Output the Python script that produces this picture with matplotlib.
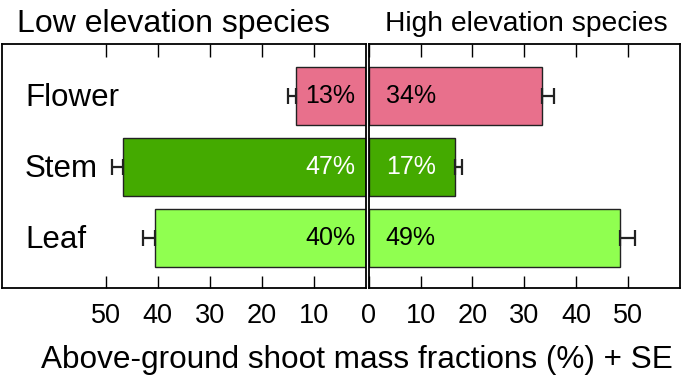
import matplotlib
matplotlib.use("Agg")
import matplotlib.pyplot as plt

plt.rcParams['font.family'] = ['Liberation Sans', 'DejaVu Sans']

organs = ['Leaf', 'Stem', 'Flower']
low_vals = [40.5, 46.8, 13.4]
low_se = [2.3, 2.0, 1.6]
low_labels = ['40%', '47%', '13%']
high_vals = [48.4, 16.7, 33.4]
high_se = [2.9, 1.3, 2.3]
high_labels = ['49%', '17%', '34%']

bar_colors = ['#90FF50', '#44AA00', '#E8708C']
text_colors = ['black', 'white', 'black']

fig = plt.figure(figsize=(6.85, 3.76), dpi=100)
W, H = 685, 376

def px_axes(x0, x1, y0, y1):
    return fig.add_axes([x0 / W, 1 - y1 / H, (x1 - x0) / W, (y1 - y0) / H])

ax_low = px_axes(2, 365.7, 44, 288)
ax_high = px_axes(368.7, 680, 44, 288)

ypos = list(range(len(organs)))

for ax in (ax_low, ax_high):
    for s in ax.spines.values():
        s.set_linewidth(1.3)
    ax.set_yticks([])
    ax.tick_params(axis='x', direction='in', length=9, width=1.0,
                   top=True, bottom=True, labelsize=19.5, pad=11)
    ax.set_ylim(-0.71, 2.73)

err_kw = dict(ecolor='#222222', elinewidth=1.6, capsize=6, capthick=1.6)

ax_low.barh(ypos, low_vals, height=0.82, color=bar_colors, edgecolor='#222222',
            linewidth=1.0, xerr=[[0] * 3, low_se], error_kw=err_kw)
ax_low.set_xlim(70, 0)
ax_low.set_xticks([50, 40, 30, 20, 10])

ax_high.barh(ypos, high_vals, height=0.82, color=bar_colors, edgecolor='#222222',
             linewidth=1.0, xerr=[[0] * 3, high_se], error_kw=err_kw)
ax_high.set_xlim(0, 60)
ax_high.set_xticks([0, 10, 20, 30, 40, 50])

for y, lab, c in zip(ypos, low_labels, text_colors):
    ax_low.text(2.0, y, lab, ha='right', va='center', fontsize=18, color=c)
for y, lab, c in zip(ypos, high_labels, text_colors):
    ax_high.text(3.3, y, lab, ha='left', va='center', fontsize=18, color=c)

for y, name in zip(ypos, organs):
    ax_low.text(0.063, (y + 0.68) / 3.44, name, transform=ax_low.transAxes,
                ha='left', va='center', fontsize=22.5)

fig.text(174 / W, 1 - 32 / H, 'Low elevation species', ha='center',
         va='baseline', fontsize=23)
fig.text(526 / W, 1 - 31 / H, 'High elevation species', ha='center',
         va='baseline', fontsize=20.3)
fig.text(357 / W, 1 - 368 / H, 'Above-ground shoot mass fractions (%) + SE',
         ha='center', va='baseline', fontsize=22.7)

fig.savefig('out.png', dpi=100)
